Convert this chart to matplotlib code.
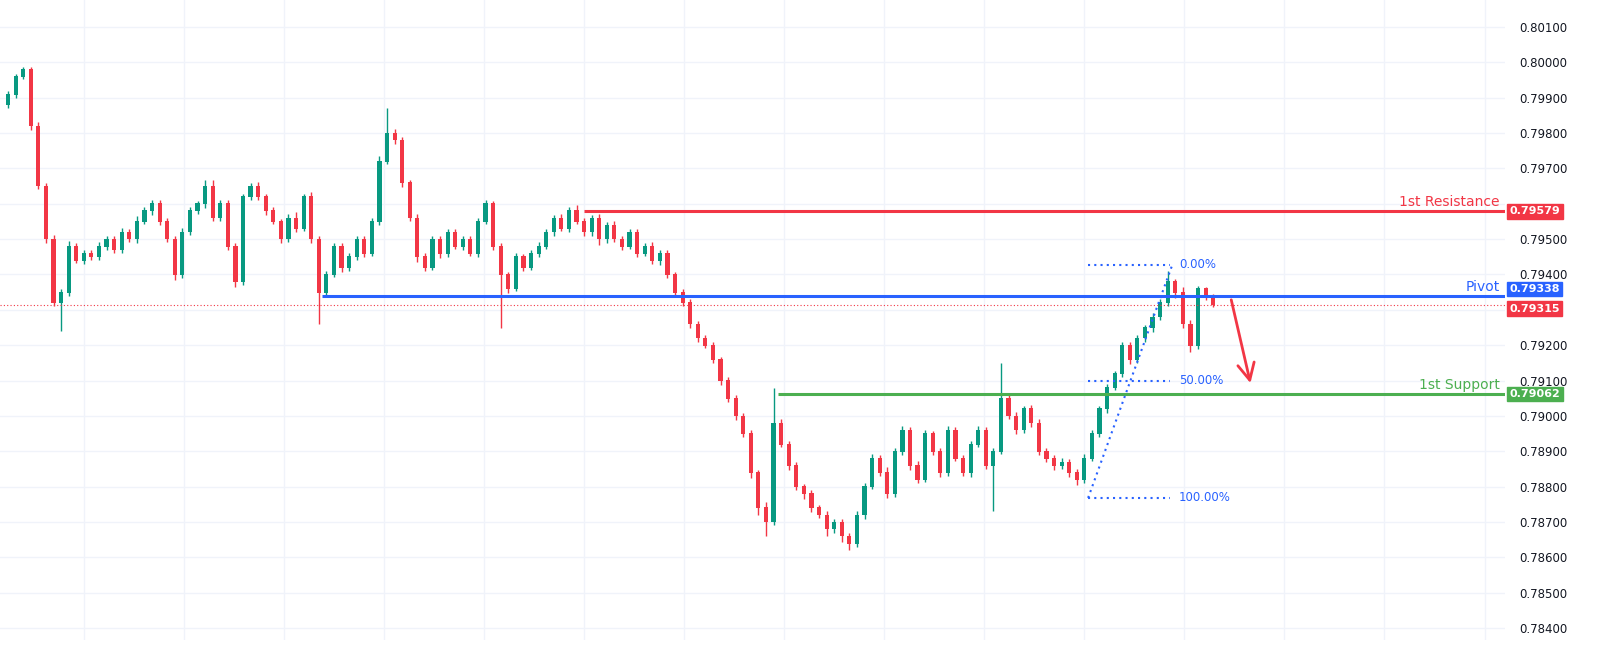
import matplotlib.pyplot as plt
import matplotlib.transforms as mtransforms
import numpy as np

# closing prices, one per candle
closes = [
    .7991, .7996, .7998, .7982, .7965, .7950, .7932, .7935, .7948, .7944,
    .7946, .7945, .7948, .7950, .7947, .7952, .7950, .7955, .7958, .7960,
    .7955, .7950, .7940, .7952, .7958, .7960, .7965, .7956, .7960, .7948,
    .7938, .7962, .7965, .7962, .7958, .7955, .7950, .7956, .7953, .7962,
    .7950, .7935, .7940, .7948, .7942, .7945, .7950, .7946, .7955, .7972,
    .7980, .7978, .7966, .7956, .7945, .7942, .7950, .7946, .7952, .7948,
    .7950, .7946, .7955, .7960, .7948, .7940, .7936, .7945, .7942, .7946,
    .7948, .7952, .7956, .7953, .7958, .7955, .7952, .7956, .7950, .7954,
    .7950, .7948, .7952, .7946, .7948, .7944, .7946, .7940, .7935, .7932,
    .7926, .7922, .7920, .7916, .7910, .7905, .7900, .7895, .7884, .7874,
    .7870, .7898, .7892, .7886, .7880, .7878, .7874, .7872, .7868, .7870,
    .7866, .7864, .7872, .7880, .7888, .7884, .7878, .7890, .7896, .7886,
    .7882, .7895, .7890, .7884, .7896, .7888, .7884, .7892, .7896, .7886,
    .7890, .7905, .7900, .7896, .7902, .7898, .7890, .7888, .7886, .7887,
    .7884, .7882, .7888, .7895, .7902, .7908, .7912, .7920, .7916, .7922,
    .7925, .7928, .7932, .7938, .7935, .7926, .7920, .7936, .7934, .79315,
]
first_open = .7988
# wick lengths in units of 0.00002
wick_up = [
    5, 4, 3, 3, 5, 4, 6, 5, 8, 5,
    4, 5, 6, 4, 5, 6, 4, 8, 6, 5,
    6, 5, 4, 6, 5, 4, 9, 8, 5, 5,
    5, 4, 5, 6, 4, 5, 4, 5, 8, 4,
    6, 4, 5, 4, 5, 6, 5, 4, 5, 8,
    35, 6, 5, 4, 5, 6, 4, 5, 4, 5,
    5, 4, 5, 6, 4, 5, 4, 5, 4, 5,
    6, 5, 4, 5, 5, 8, 5, 4, 5, 4,
    5, 4, 5, 4, 5, 6, 4, 5, 4, 5,
    5, 4, 4, 5, 4, 5, 4, 4, 5, 4,
    8, 50, 5, 4, 5, 4, 5, 4, 5, 4,
    4, 5, 6, 5, 6, 5, 8, 5, 6, 5,
    6, 5, 4, 5, 6, 5, 4, 5, 6, 5,
    5, 50, 5, 6, 4, 5, 6, 5, 4, 5,
    4, 5, 6, 5, 4, 5, 4, 5, 4, 5,
    4, 5, 5, 15, 4, 8, 6, 4, 3, 2,
]
wick_dn = [
    4, 5, 4, 5, 4, 6, 5, 40, 6, 4,
    5, 4, 5, 6, 4, 5, 4, 5, 4, 6,
    5, 4, 8, 5, 4, 5, 6, 5, 4, 6,
    8, 5, 4, 5, 6, 4, 5, 4, 5, 4,
    6, 45, 5, 4, 6, 5, 4, 5, 4, 5,
    4, 5, 6, 4, 8, 5, 4, 6, 5, 4,
    5, 4, 5, 4, 6, 75, 6, 4, 5, 4,
    5, 4, 5, 4, 5, 4, 5, 6, 8, 5,
    4, 5, 4, 5, 4, 5, 6, 5, 6, 5,
    6, 5, 4, 5, 6, 5, 6, 5, 8, 10,
    20, 5, 4, 6, 5, 8, 6, 5, 10, 6,
    8, 10, 5, 6, 4, 5, 6, 4, 5, 6,
    5, 4, 5, 6, 5, 4, 5, 6, 4, 5,
    65, 4, 5, 6, 4, 5, 6, 5, 6, 5,
    6, 8, 5, 4, 5, 6, 4, 5, 6, 5,
    5, 6, 4, 5, 8, 6, 10, 5, 6, 3,
]

resistance = 0.79579
pivot = 0.79338
support = 0.79062
last_price = 0.79315
fib_hi, fib_mid, fib_lo = 0.79427, 0.79099, 0.78768
arrow_from, arrow_to = 0.79336, 0.79085

UP = '#089981'
DN = '#F23645'
BLUE = '#2962FF'
GREEN = '#4CAF50'

closes = np.array(closes)
opens = np.concatenate([[first_open], closes[:-1]])
highs = np.maximum(opens, closes) + np.array(wick_up) * 0.00002
lows = np.minimum(opens, closes) - np.array(wick_dn) * 0.00002
idx = np.arange(len(closes))

fig = plt.figure(figsize=(16.05, 6.61), dpi=100)
ax = fig.add_axes([0, 21 / 661, 1505 / 1605, 640 / 661])

cols = [UP if c >= o else DN for o, c in zip(opens, closes)]
ax.vlines(idx, lows, highs, colors=cols, linewidth=1)
ax.bar(idx, np.abs(closes - opens) + 0.00002, bottom=np.minimum(opens, closes) - 0.00001,
       width=0.55, color=cols)

ax.set_xlim(-1.06, 197.5)
ax.set_ylim(0.783661, 0.801764)

# level lines
ax.hlines(resistance, 76, 197.5, color=DN, linewidth=2.2)
ax.hlines(pivot, 41.4, 197.5, color=BLUE, linewidth=2.2)
ax.hlines(support, 101.6, 197.5, color=GREEN, linewidth=2.2)
ax.axhline(last_price, color=DN, linewidth=0.8, linestyle=(0, (1, 2)))
ax.text(196.8, resistance + 0.00006, '1st Resistance', color=DN, ha='right', va='bottom', fontsize=10)
ax.text(196.8, pivot + 0.00006, 'Pivot', color=BLUE, ha='right', va='bottom', fontsize=10)
ax.text(196.8, support + 0.00006, '1st Support', color=GREEN, ha='right', va='bottom', fontsize=10)

# fib retracement
f0, f1 = 142.5, 153.3
ax.plot([f0, 153.6], [fib_lo, fib_hi], color=BLUE, linestyle=(0, (1, 2)), linewidth=1.5)
for lvl, lab in [(fib_hi, '0.00%'), (fib_mid, '50.00%'), (fib_lo, '100.00%')]:
    ax.hlines(lvl, f0, f1, color=BLUE, linestyle=(0, (1, 2)), linewidth=1.5)
    ax.text(f1 + 1.2, lvl, lab, color=BLUE, fontsize=8.5, va='center')

ax.annotate('', xy=(164.0, arrow_to), xytext=(161.3, arrow_from),
            arrowprops=dict(arrowstyle='->,head_length=1.2,head_width=0.6', color=DN, lw=2))

# axis styling
ax.yaxis.tick_right()
ticks = np.arange(0.784, 0.80101, 0.001)
ax.set_yticks(ticks)
hidden = {'0.79600', '0.79300'}
ax.set_yticklabels(['' if f'{t:.5f}' in hidden else f'{t:.5f}' for t in ticks],
                   fontsize=8.5, color='#131722')
ax.tick_params(axis='y', length=0, pad=10)
ax.set_xticks(np.arange(10, 197, 13.2))
ax.tick_params(axis='x', length=0, labelbottom=False)
ax.grid(True, color='#F0F3FA', linewidth=1)
ax.set_axisbelow(True)
for s in ax.spines.values():
    s.set_visible(False)

tr = mtransforms.blended_transform_factory(ax.transAxes, ax.transData)
tags = [(resistance, 0.0, DN), (pivot, 0.00021, BLUE), (last_price, -0.00012, DN), (support, 0.0, GREEN)]
for val, off, c in tags:
    ax.text(1.003, val + off, f'{val:.5f}', transform=tr, color='white', fontsize=8,
            fontweight='bold', va='center', ha='left',
            bbox=dict(boxstyle='square,pad=0.22', fc=c, ec=c))

fig.savefig('out.png', dpi=100)
